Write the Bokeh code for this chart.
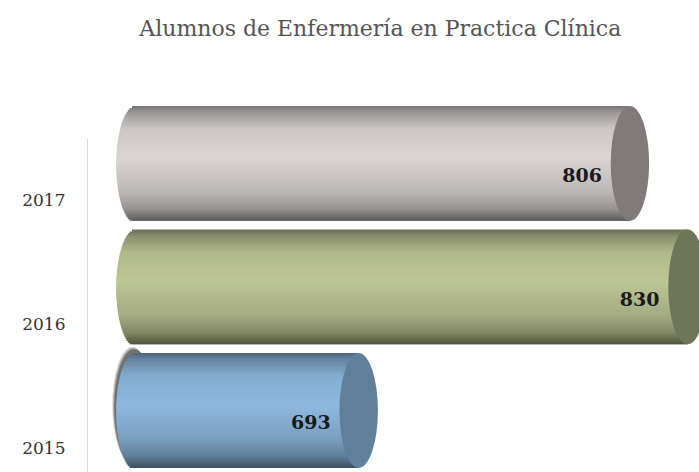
import numpy as np
from bokeh.plotting import figure
from bokeh.models import ColumnDataSource, Range1d, FixedTicker, Label
from bokeh.core.properties import value
from bokeh.embed import file_html
from bokeh.resources import INLINE

# ---- data ----
years = ["2015", "2016", "2017"]
counts = [693, 830, 806]
axis_min = 600  # value axis starts here

title_text = "Alumnos de Enfermería en Practica Clínica"

# ---- style ----
light_cols = [(142, 186, 224), (190, 199, 150), (219, 213, 213)]
cap_cols = ["#5f7f9b", "#6e7657", "#807a7a"]
bar_h = 0.93        # bar thickness in category units
bar_shift = 0.30    # 3-D perspective shift of the bar above its label
cap_a = 8.0         # half width of end ellipse, in value units
n_strips = 60

# brightness profile across a cylinder (top -> bottom)
prof_t = [0.0, 0.06, 0.2, 0.45, 0.75, 0.9, 1.0]
prof_f = [0.55, 0.72, 0.93, 1.0, 0.86, 0.68, 0.42]

pos = np.arange(len(years), dtype=float)

p = figure(width=699, height=472, output_backend="svg", toolbar_location=None,
           x_range=Range1d(580, 835), y_range=Range1d(-0.2024, 3.619),
           x_axis_location=None, min_border_left=87, min_border_top=0,
           min_border_right=0, min_border_bottom=0)
p.outline_line_color = None
p.xgrid.visible = False
p.ygrid.visible = False
p.background_fill_color = "white"

# soft shadow behind the left end of the first bar
for k, (dx, dy, al) in enumerate([(1.4, 0.045, 0.18), (1.0, 0.035, 0.3), (0.6, 0.025, 0.45)]):
    p.ellipse(x=[axis_min - dx], y=[pos[0] + bar_shift + dy], width=2 * cap_a + 0.6,
              height=bar_h + 0.01, fill_color="#303030", fill_alpha=al, line_color=None)

# cylinder bodies as shaded strips
ys, hs, ls, rs, cs = [], [], [], [], []
dh = bar_h / n_strips
for i, (c, l) in enumerate(zip(counts, light_cols)):
    yc = pos[i] + bar_shift
    top = yc + bar_h / 2
    bot = yc - bar_h / 2
    for k in range(n_strips):
        t = (k + 0.5) / n_strips  # 0 top, 1 bottom
        f = np.interp(t, prof_t, prof_f)
        col = "#%02x%02x%02x" % tuple(int(min(255, v * f)) for v in l)
        u = 2 * t - 1
        left = axis_min - cap_a * np.sqrt(max(0.0, 1 - u * u))
        s_top = top - k * dh
        s_bot = max(bot, s_top - 2.2 * dh)
        ys.append((s_top + s_bot) / 2)
        hs.append(s_top - s_bot)
        ls.append(left)
        rs.append(c)
        cs.append(col)
src = ColumnDataSource(dict(y=ys, h=hs, left=ls, right=rs, color=cs))
p.hbar(y="y", height="h", left="left", right="right", fill_color="color",
       line_color=None, source=src)

# end caps
p.ellipse(x=counts, y=list(pos + bar_shift), width=2 * cap_a, height=bar_h,
          fill_color=cap_cols, line_color=None)

# value labels
p.text(x=counts, y=list(pos + bar_shift), text=[str(c) for c in counts],
       x_offset=-28, y_offset=12, text_align="right", text_baseline="middle",
       text_font=value("DejaVu Serif"), text_font_style="bold",
       text_font_size="19px", text_color="#1a1a1a")

# y axis
p.yaxis.ticker = FixedTicker(ticks=list(pos))
p.yaxis.major_label_overrides = {float(v): y for v, y in zip(pos, years)}
p.yaxis.major_tick_line_color = None
p.yaxis.minor_tick_line_color = None
p.yaxis.axis_line_color = "#d9d9d9"
p.yaxis.bounds = (-0.2024, 2.502)
p.yaxis.major_label_text_font = "DejaVu Serif"
p.yaxis.major_label_text_font_size = "17px"
p.yaxis.major_label_text_color = "#333333"
p.yaxis.major_label_standoff = 16

# title
p.add_layout(Label(x=702, y=3.393, text=title_text,
                   text_align="center", text_baseline="middle",
                   text_font="DejaVu Serif", text_font_size="22px",
                   text_color="#555555"))

open("out.html", "w").write(file_html(p, INLINE))
